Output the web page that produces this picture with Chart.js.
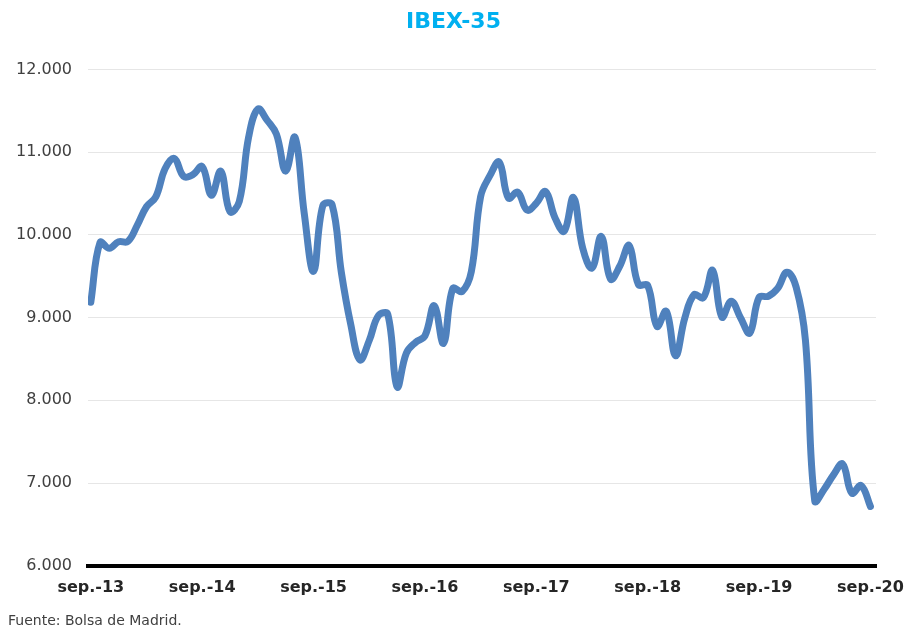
<!DOCTYPE html>
<html>
<head>
<meta charset="utf-8">
<title>IBEX-35</title>
<script src="https://cdn.jsdelivr.net/npm/chart.js@4/dist/chart.umd.min.js"></script>
<style>
  body { margin: 0; background: #fff; }
  #chart { display: block; }
</style>
</head>
<body>
<canvas id="chart" width="907" height="628"></canvas>
<script>
// monthly close, sep-2013 .. sep-2020
const y2013 = [9186, 9908, 9837, 9917];
const y2014 = [9920, 10114, 10340, 10459, 10798, 10923, 10707, 10728, 10826, 10478, 10770, 10280];
const y2015 = [10403, 11178, 11521, 11385, 11218, 10770, 11180, 10259, 9559, 10353, 10364, 9544];
const y2016 = [8922, 8489, 8723, 9025, 9039, 8163, 8571, 8701, 8779, 9144, 8689, 9352];
const y2017 = [9315, 9555, 10463, 10715, 10880, 10445, 10515, 10300, 10382, 10523, 10211, 10044];
const y2018 = [10452, 9840, 9600, 9981, 9466, 9623, 9871, 9400, 9389, 8894, 9077, 8540];
const y2019 = [8994, 9277, 9240, 9571, 9005, 9199, 8999, 8813, 9245, 9258, 9352, 9549];
const y2020 = [9367, 8723, 6785, 6922, 7096, 7231, 6877, 6970, 6717];

const tickLabels = ['sep.-13', 'sep.-14', 'sep.-15', 'sep.-16', 'sep.-17', 'sep.-18', 'sep.-19', 'sep.-20'];
const yTicks = [6000, 7000, 8000, 9000, 10000, 11000, 12000];

const ibex = [].concat(y2013, y2014, y2015, y2016, y2017, y2018, y2019, y2020);
const points = ibex.map((v, i) => ({ x: i, y: v }));

function miles(v) {
  return String(v).replace(/\B(?=(\d{3})+(?!\d))/g, '.');
}

const ctx = document.getElementById('chart').getContext('2d');
const chart = new Chart(ctx, {
  type: 'line',
  data: {
    datasets: [{
      label: 'IBEX-35',
      data: points,
      borderColor: '#4F81BD',
      backgroundColor: '#4F81BD',
      borderWidth: 7,
      borderCapStyle: 'round',
      borderJoinStyle: 'round',
      tension: 0.4,
      pointRadius: 0,
      fill: false
    }]
  },
  options: {
    responsive: false,
    animation: false,
    layout: { padding: { left: 8, right: 8, top: 0, bottom: 0 } },
    plugins: {
      legend: { display: false },
      tooltip: { enabled: false },
      title: {
        display: true,
        text: 'IBEX-35',
        color: '#00B0F0',
        font: { family: 'DejaVu Sans', size: 22, weight: 'bold' },
        padding: { top: 9, bottom: 34 }
      },
      subtitle: {
        display: true,
        text: 'Fuente: Bolsa de Madrid.',
        position: 'bottom',
        align: 'start',
        color: '#404040',
        font: { family: 'DejaVu Sans', size: 14, lineHeight: 1 },
        padding: { top: 5, bottom: 0 }
      }
    },
    scales: {
      x: {
        type: 'linear',
        min: -0.3,
        max: 84.6,
        afterBuildTicks: (scale) => {
          scale.ticks = tickLabels.map((t, i) => ({ value: i * 12 }));
        },
        afterFit: (scale) => {
          scale.paddingLeft = 0;
          scale.paddingRight = 31;
        },
        grid: { display: false, drawTicks: false },
        border: { display: true, color: '#000', width: 4 },
        ticks: {
          autoSkip: false,
          maxRotation: 0,
          padding: 12,
          color: '#262626',
          font: { family: 'DejaVu Sans', size: 16, weight: 'bold' },
          callback: (v) => tickLabels[v / 12]
        }
      },
      y: {
        min: 6000,
        max: 12000,
        afterBuildTicks: (scale) => {
          scale.ticks = yTicks.map(v => ({ value: v }));
        },
        afterFit: (scale) => { scale.width = 80; },
        grid: { color: '#e6e6e6', lineWidth: 1, drawTicks: false },
        border: { display: false },
        ticks: {
          padding: 16,
          color: '#404040',
          font: { family: 'DejaVu Sans', size: 16 },
          callback: (v) => miles(v)
        }
      }
    }
  }
});
</script>
</body>
</html>
